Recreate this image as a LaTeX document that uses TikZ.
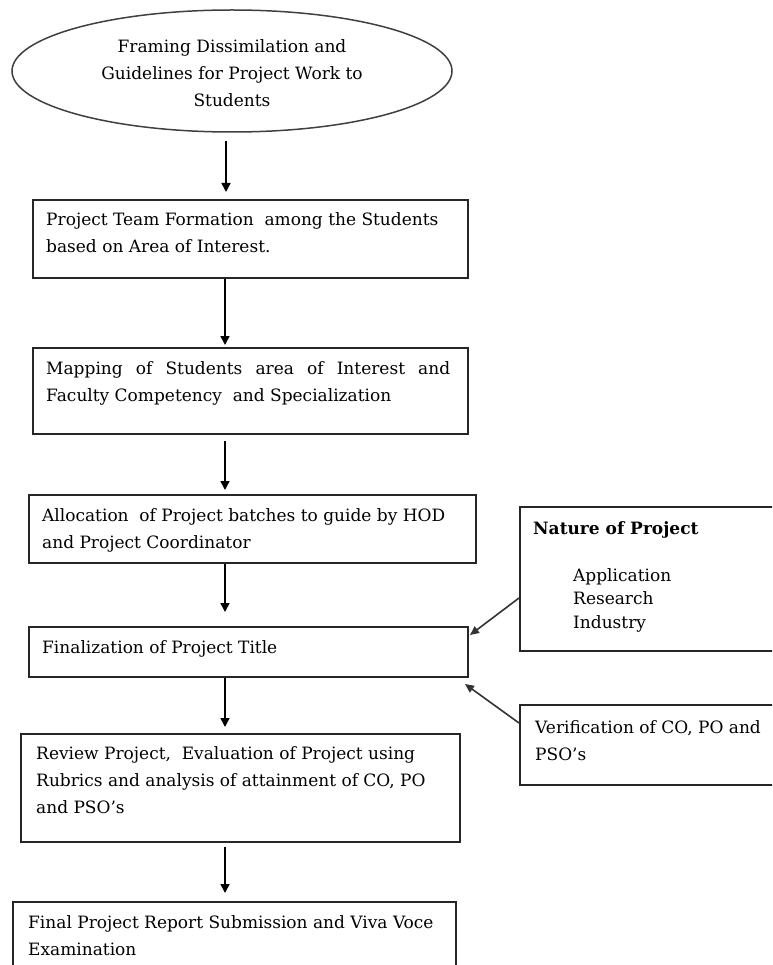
\documentclass[tikz,border=0pt]{standalone}
\usepackage{fontspec}
\setmainfont{DejaVu Serif}
\usetikzlibrary{shapes.geometric,arrows.meta,calc}
\newcommand{\ff}{\fontsize{17}{27}\selectfont}
\begin{document}
\begin{tikzpicture}[x=1pt,y=-1pt,
  box/.style={draw=black!85, line width=2pt, inner sep=0pt, anchor=north west},
  txt/.style={anchor=base west, inner sep=0pt, font=\ff},
  arr/.style={draw=black, line width=1.6pt, -{Triangle[length=9pt,width=9pt]}},
  sarr/.style={draw=black!80, line width=1.6pt, -{Triangle[length=9pt,width=8pt]}}]
\clip (0,0) rectangle (772,965);
\useasboundingbox (0,0) rectangle (772,965);
\fill[white] (0,0) rectangle (772,965);
% ellipse
\node[draw=black!75, line width=1.5pt, ellipse, minimum width=440pt, minimum height=122pt, inner sep=0pt] (e) at (232,71) {};
\node[anchor=base, inner sep=0pt, font=\ff] (et) at (232,53) {\parbox[t]{360pt}{\centering Framing Dissimilation and\\Guidelines for Project Work to\\Students}};
% boxes
\node[box, minimum width=435pt, minimum height=78pt] (b1) at (32,199) {};
\node[box, minimum width=435pt, minimum height=86pt] (b2) at (32,347) {};
\node[box, minimum width=447pt, minimum height=68pt] (b3) at (28,494) {};
\node[box, minimum width=439pt, minimum height=50pt] (b4) at (28,626) {};
\node[box, minimum width=439pt, minimum height=108pt] (b5) at (20,733) {};
\node[box, minimum width=443pt, minimum height=90pt] (b6) at (12,901) {};
\node[box, minimum width=271pt, minimum height=144pt] (nat) at (519,506) {};
\node[box, minimum width=271pt, minimum height=80pt] (ver) at (519,704) {};
% texts
\node[txt] (t1) at (46,226) {\parbox[t]{420pt}{Project Team Formation \ among the Students\\based on Area of Interest.}};
\node[txt] (t2) at (46,374) {\parbox[t]{420pt}{\makebox[404pt][s]{Mapping of Students area of Interest and}\\Faculty Competency \ and Specialization}};
\node[txt] (t3) at (42,521) {\parbox[t]{430pt}{Allocation \ of Project batches to guide by HOD\\and Project Coordinator}};
\node[txt] (t4) at (42,653) {Finalization of Project Title};
\node[txt] (t5) at (36,759) {\parbox[t]{420pt}{Review Project, \ Evaluation of Project using\\Rubrics and analysis of attainment of CO, PO\\and PSO’s}};
\node[txt] (t6) at (28,928) {\parbox[t]{420pt}{Final Project Report Submission and Viva Voce\\Examination}};
\node[txt] (tn) at (533,534) {\textbf{Nature of Project}};
\node[txt] (tl) at (573,581) {\parbox[t]{150pt}{\fontsize{17}{23.5}\selectfont Application\\Research\\Industry}};
\node[txt] (tv) at (535,733) {\parbox[t]{230pt}{Verification of CO, PO and\\PSO’s}};
% connectors
\coordinate (ax) at (225,0);
\coordinate (ax1) at (226,0);
\draw[arr, shorten <=8pt, shorten >=7pt] (e.south -| ax1) -- (b1.north -| ax1);
\draw[arr, shorten >=2pt] (b1.south -| ax) -- (b2.north -| ax);
\draw[arr, shorten <=6pt, shorten >=4pt] (b2.south -| ax) -- (b3.north -| ax);
\draw[arr, shorten >=14pt] (b3.south -| ax) -- (b4.north -| ax);
\draw[arr, shorten >=6pt] (b4.south -| ax) -- (b5.north -| ax);
\draw[arr, shorten <=4pt, shorten >=8pt] (b5.south -| ax) -- (b6.north -| ax);
\coordinate (n1) at ($(b4.north east)+(1,9)$);
\coordinate (v1) at ($(b4.south east)+(-4,6)$);
\draw[sarr] (nat.west |- 0,598) -- (n1);
\draw[sarr] (ver.west |- 0,723) -- (v1);
\end{tikzpicture}
\end{document}
